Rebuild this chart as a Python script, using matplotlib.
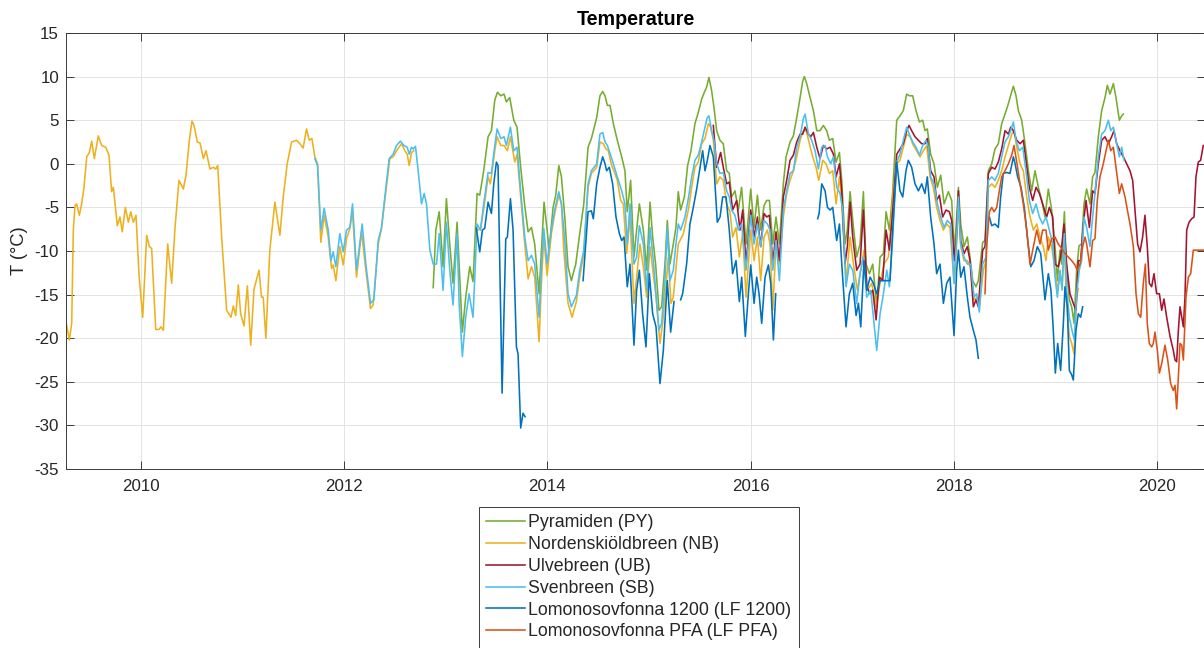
import numpy as np
import matplotlib
matplotlib.use("Agg")
import matplotlib.pyplot as plt

plt.rcParams['font.family'] = ['Liberation Sans', 'DejaVu Sans']

nan = np.nan

# ---- Daily-smoothed air temperature (deg C) at each station, time in decimal years ----
# Pyramiden (PY)
py_year = [2012.876, 2012.902, 2012.935, 2012.973, 2013.006, 2013.039, 2013.071, 2013.111, 2013.131,
           2013.163, 2013.196, 2013.236, 2013.268, 2013.308, 2013.334, 2013.373, 2013.416, 2013.449,
           2013.482, 2013.508, 2013.541, 2013.573, 2013.596, 2013.629, 2013.669, 2013.701, 2013.737,
           2013.777, 2013.810, 2013.843, 2013.875, 2013.918, 2013.941, 2013.967, 2013.997, 2014.016,
           2014.056, 2014.082, 2014.112, 2014.138, 2014.171, 2014.203, 2014.236, 2014.279, 2014.318,
           2014.358, 2014.400, 2014.433, 2014.485, 2014.517, 2014.544, 2014.567, 2014.590, 2014.616,
           2014.649, 2014.688, 2014.731, 2014.763, 2014.786, 2014.819, 2014.852, 2014.878, 2014.905,
           2014.944, 2014.977, 2015.010, 2015.036, 2015.065, 2015.098, 2015.124, 2015.157, 2015.180,
           2015.206, 2015.239, 2015.265, 2015.288, 2015.311, 2015.348, 2015.380, 2015.413, 2015.452,
           2015.485, 2015.518, 2015.544, 2015.567, 2015.590, 2015.616, 2015.639, 2015.666, 2015.698,
           2015.731, 2015.764, 2015.790, 2015.813, 2015.846, 2015.879, 2015.911, 2015.955, 2016.001,
           2016.034, 2016.067, 2016.099, 2016.132, 2016.158, 2016.185, 2016.218, 2016.250, 2016.283,
           2016.322, 2016.349, 2016.388, 2016.421, 2016.454, 2016.487, 2016.513, 2016.529, 2016.552,
           2016.585, 2016.618, 2016.651, 2016.683, 2016.716, 2016.749, 2016.775, 2016.808, 2016.841,
           2016.874, 2016.897, 2016.929, 2016.952, 2016.979, 2017.012, 2017.044, 2017.077, 2017.110,
           2017.136, 2017.169, 2017.202, 2017.241, 2017.274, 2017.307, 2017.333, 2017.366, 2017.399,
           2017.438, 2017.470, 2017.503, 2017.536, 2017.562, 2017.595, 2017.628, 2017.661, 2017.694,
           2017.716, 2017.739, 2017.772, 2017.805, 2017.838, 2017.871, 2017.904, 2017.946, 2017.979,
           2018.005, 2018.028, 2018.045, 2018.068, 2018.100, 2018.133, 2018.159, 2018.186, 2018.218,
           2018.241, 2018.284, 2018.307, 2018.340, 2018.373, 2018.405, 2018.438, 2018.471, 2018.504,
           2018.537, 2018.563, 2018.586, 2018.612, 2018.635, 2018.668, 2018.701, 2018.734, 2018.766,
           2018.799, 2018.832, 2018.865, 2018.897, 2018.930, 2018.963, 2018.996, 2019.019, 2019.045,
           2019.061, 2019.088, 2019.110, 2019.137, 2019.160, 2019.183, 2019.209, 2019.232, 2019.258,
           2019.281, 2019.307, 2019.340, 2019.366, 2019.389, 2019.422, 2019.455, 2019.488, 2019.511,
           2019.537, 2019.570, 2019.596, 2019.629, 2019.652, 2019.668]
py_temp = [-14.2, -7.6, -5.5, -11.8, -4.0, -9.2, -13.7, -6.7, -11.5,
           -19.3, -15.3, -11.8, -13.5, -3.4, -3.6, -0.8, 3.1, 3.8,
           7.3, 8.2, 7.8, 8.0, 7.1, 7.6, 5.0, 4.2, -0.4,
           -4.8, -7.8, -7.3, -9.2, -14.9, -9.9, -4.4, -7.6, -9.9,
           -5.0, -3.6, -0.2, -1.5, -6.1, -11.8, -13.4, -11.5, -8.0,
           -4.6, 1.9, 2.9, 5.3, 7.8, 8.3, 7.8, 6.7, 6.7,
           4.6, 2.7, 0.8, -0.8, -5.5, -1.9, -10.7, -7.6, -4.6,
           -7.6, -12.2, -4.4, -8.4, -11.5, -16.8, -16.4, -11.5, -6.5,
           -11.5, -9.2, -7.3, -3.2, -5.3, -3.8, -0.2, 1.5, 4.6,
           5.9, 7.4, 8.2, 8.8, 9.9, 8.4, 6.5, 3.8, 2.7,
           2.3, -0.8, -1.1, -3.8, -3.1, -5.3, -2.7, -9.2, -2.9,
           -7.3, -3.6, -7.6, -4.8, -4.2, -4.2, -9.2, -6.1, -9.2,
           -2.3, 0.8, 2.5, 3.2, 5.3, 7.6, 9.5, 10.0, 9.2,
           7.6, 6.1, 3.8, 3.8, 4.4, 3.8, 2.7, 2.9, 0.2,
           1.3, -1.9, -9.2, -7.6, -3.2, -7.3, -10.7, -9.2, -3.2,
           -11.5, -12.6, -11.5, -16.4, -10.7, -10.3, -5.5, -7.6, -3.1,
           5.0, 5.5, 6.1, 8.0, 7.8, 7.8, 6.1, 4.8, 5.0,
           3.8, 4.0, 1.1, 0.0, -2.7, -1.3, -4.6, -3.2, -4.2,
           -10.3, -6.1, -2.7, -6.9, -9.5, -8.4, -10.7, -13.4, -14.1,
           -13.4, -9.0, -8.8, -0.8, 0.0, 1.7, 2.3, 4.6, 5.7,
           6.9, 8.0, 8.9, 7.8, 6.1, 5.0, 2.3, -0.8, -3.1,
           -0.8, -2.7, -4.2, -6.1, -2.9, -5.3, -9.5, -13.4, -9.9,
           -11.5, -5.5, -12.2, -15.6, -16.4, -18.3, -12.2, -9.4, -9.2,
           -4.6, -2.9, -4.6, -1.5, -1.0, 3.1, 6.1, 7.6, 9.0,
           8.0, 9.2, 7.6, 5.0, 5.5, 5.7]

# Nordenskiöldbreen (NB)
nb_year = [2009.262, 2009.295, 2009.318, 2009.334, 2009.351, 2009.367, 2009.393, 2009.416, 2009.439,
           2009.466, 2009.492, 2009.515, 2009.541, 2009.580, 2009.613, 2009.653, 2009.685, 2009.711,
           2009.728, 2009.767, 2009.793, 2009.816, 2009.846, 2009.876, 2009.899, 2009.925, 2009.951,
           2009.981, 2010.017, 2010.056, 2010.082, 2010.105, 2010.145, 2010.177, 2010.197, 2010.220,
           2010.263, 2010.302, 2010.335, 2010.374, 2010.417, 2010.443, 2010.476, 2010.502, 2010.522,
           2010.555, 2010.581, 2010.614, 2010.640, 2010.679, 2010.712, 2010.735, 2010.755, 2010.794,
           2010.843, 2010.886, 2010.909, 2010.932, 2010.958, 2010.981, 2011.014, 2011.047, 2011.080,
           2011.112, 2011.162, 2011.186, 2011.203, 2011.229, 2011.268, 2011.318, 2011.367, 2011.400,
           2011.439, 2011.482, 2011.531, 2011.564, 2011.596, 2011.629, 2011.656, 2011.682, 2011.711,
           2011.738, 2011.770, 2011.803, 2011.843, 2011.875, 2011.892, 2011.918, 2011.957, 2011.990,
           2012.023, 2012.056, 2012.082, 2012.121, 2012.171, 2012.213, 2012.259, 2012.285, 2012.335,
           2012.368, 2012.400, 2012.449, 2012.482, 2012.515, 2012.564, 2012.597, 2012.620, 2012.640,
           2012.663, 2012.686, 2013.000,
           2013.308, 2013.341, 2013.373, 2013.416, 2013.439, 2013.482, 2013.505, 2013.541, 2013.573,
           2013.606, 2013.636, 2013.679, 2013.701, 2013.737, 2013.777, 2013.810, 2013.843, 2013.875,
           2013.918, 2013.941, 2013.964, 2013.997, 2014.039, 2014.072, 2014.112, 2014.138, 2014.161,
           2014.203, 2014.243, 2014.285, 2014.318, 2014.358, 2014.400, 2014.433, 2014.485, 2014.517,
           2014.550, 2014.577, 2014.599, 2014.632, 2014.655, 2014.688, 2014.721, 2014.747, 2014.780,
           2014.813, 2014.852, 2014.885, 2014.911, 2014.944, 2014.977, 2015.010, 2015.042, 2015.069,
           2015.108, 2015.134, 2015.167, 2015.190, 2015.216, 2015.239, 2015.288, 2015.338, 2015.387,
           2015.420, 2015.452, 2015.485, 2015.518, 2015.551, 2015.584, 2015.607, 2015.633, 2015.666,
           2015.698, 2015.731, 2015.764, 2015.797, 2015.823, 2015.856, 2015.889, 2015.922, 2015.955,
           2016.001, 2016.034, 2016.067, 2016.099, 2016.132, 2016.165, 2016.191, 2016.218, 2016.250,
           2016.283, 2016.322, 2016.355, 2016.388, 2016.421, 2016.454, 2016.487, 2016.519, 2016.546,
           2016.578, 2016.611, 2016.644, 2016.670, 2016.710, 2016.742, 2016.775, 2016.808, 2016.841,
           2016.874, 2016.897, 2016.939, 2016.979, 2017.012, 2017.051, 2017.084, 2017.116, 2017.149,
           2017.192, 2017.235, 2017.274, 2017.313, 2017.356, 2017.405, 2017.438, 2017.470, 2017.503,
           2017.536, 2017.569, 2017.602, 2017.634, 2017.667, 2017.700, 2017.733, 2017.766, 2017.798,
           2017.831, 2017.864, 2017.897, 2017.930, 2017.962, 2018.002, 2018.028, 2018.045, 2018.068,
           2018.100, 2018.133, 2018.166, 2018.199, 2018.232, 2018.251, 2018.291, 2018.317, 2018.340,
           2018.373, 2018.405, 2018.438, 2018.471, 2018.504, 2018.537, 2018.570, 2018.592, 2018.619,
           2018.652, 2018.684, 2018.717, 2018.750, 2018.783, 2018.816, 2018.848, 2018.881, 2018.907,
           2018.930, 2018.963, 2018.996, 2019.019, 2019.045, 2019.065, 2019.088, 2019.110, 2019.137,
           2019.160, 2019.183, 2019.209, 2019.225]
nb_temp = [-18.1, -20.2, -18.3, -7.6, -4.8, -4.6, -5.9, -4.6, -2.7,
           0.8, 1.3, 2.6, 0.6, 3.2, 2.1, 1.9, 1.0, -3.2,
           -2.7, -7.1, -6.1, -7.8, -5.0, -6.7, -5.5, -6.7, -5.9,
           -12.8, -17.6, -8.2, -9.5, -9.7, -19.0, -19.0, -18.7, -19.1,
           -9.2, -13.7, -7.3, -1.9, -2.9, -1.3, 2.7, 4.9, 4.4,
           2.5, 2.4, 0.6, 1.5, -0.6, -0.4, -0.6, -0.2, -8.4,
           -16.8, -17.6, -16.3, -17.4, -13.9, -17.2, -18.6, -14.0, -20.8,
           -14.4, -12.2, -15.3, -15.3, -20.0, -9.9, -4.4, -8.2, -3.8,
           0.0, 2.5, 2.7, 2.3, 1.8, 4.0, 2.7, 2.9, 0.8,
           0.0, -9.0, -5.9, -8.4, -12.0, -11.6, -13.4, -9.5, -11.6,
           -8.6, -7.4, -5.5, -13.0, -7.8, -12.2, -16.6, -16.2, -9.2,
           -7.3, -4.2, 0.6, 0.8, 1.5, 2.3, 1.5, 1.1, -0.2,
           1.3, 1.5, nan,
           -7.6, -7.5, -5.2, -1.5, -2.3, 1.5, 3.1, 2.1, 2.1,
           1.5, 3.1, 0.2, 1.1, -3.8, -9.2, -13.2, -11.8, -13.0,
           -20.4, -13.7, -8.4, -12.8, -8.0, -5.7, -3.6, -4.6, -9.9,
           -16.0, -17.6, -15.8, -13.0, -10.3, -2.7, -1.1, -0.4, 2.5,
           2.3, 1.7, 1.5, -0.2, -0.8, -1.9, -4.2, -4.6, -10.3,
           -6.1, -16.0, -12.2, -9.2, -11.8, -15.3, -9.5, -12.6, -15.3,
           -20.6, -18.3, -14.1, -10.7, -16.0, -15.3, -9.2, -8.0, -5.3,
           -2.7, -0.4, 0.2, 2.3, 2.9, 4.6, 4.2, 2.7, -2.3,
           -1.5, -1.9, -4.6, -5.5, -8.4, -7.3, -10.7, -8.0, -15.3,
           -7.6, -11.1, -8.4, -13.4, -8.4, -7.6, -9.2, -16.8, -9.2,
           -11.5, -6.1, -3.4, -1.9, -0.8, 0.8, 2.7, 3.8, 3.8,
           2.3, 0.8, -0.4, -1.9, 0.4, 0.0, -1.1, -0.8, -4.6,
           -1.5, -4.6, -13.7, -8.4, -11.5, -14.5, -12.2, -9.9, -14.5,
           -13.7, -16.4, -13.7, -11.5, -10.7, -3.1, 0.0, 0.4, 1.9,
           3.4, 3.1, 2.1, 1.5, 0.8, 1.5, 2.1, -1.5, -2.7,
           -5.0, -6.5, -7.6, -6.9, -7.3, -13.7, -9.2, -4.6, -9.5,
           -11.1, -11.1, -11.8, -15.6, -15.3, -16.4, -12.2, -11.1, -2.7,
           -2.3, -2.7, -1.9, -0.8, 0.8, 2.1, 3.4, 3.8, 1.9,
           0.0, -0.8, -3.8, -6.1, -7.6, -6.9, -8.4, -9.5, -11.1,
           -8.4, -9.5, -12.2, -14.5, -12.6, -14.1, -9.5, -16.0, -19.8,
           -20.6, -21.8, -15.3, -14.3]

# Ulvebreen (UB)
ub_year = [2015.633, 2015.666, 2015.705, 2015.731, 2015.764, 2015.790, 2015.823, 2015.863, 2015.895,
           2015.922, 2015.955, 2016.001, 2016.034, 2016.067, 2016.099, 2016.132, 2016.158, 2016.185,
           2016.218, 2016.250, 2016.283, 2016.322, 2016.355, 2016.388, 2016.421, 2016.454, 2016.487,
           2016.513, 2016.536, 2016.569, 2016.592, 2016.618, 2016.651, 2016.683, 2016.716, 2016.749,
           2016.782, 2016.815, 2016.841, 2016.874, 2016.897, 2016.929, 2016.952, 2016.979, 2017.005,
           2017.044, 2017.077, 2017.110, 2017.143, 2017.176, 2017.202, 2017.235, 2017.267, 2017.300,
           2017.333, 2017.366, 2017.399, 2017.438, 2017.470, 2017.503, 2017.536, 2017.559, 2017.585,
           2017.618, 2017.651, 2017.684, 2017.716, 2017.739, 2017.772, 2017.805, 2017.831, 2017.858,
           2017.890, 2017.923, 2017.956, 2017.979, 2018.005, 2018.028, 2018.045, 2018.068, 2018.100,
           2018.133, 2018.159, 2018.192, 2018.218, 2018.241, 2018.284, 2018.307, 2018.340, 2018.373,
           2018.405, 2018.438, 2018.471, 2018.504, 2018.537, 2018.560, 2018.586, 2018.619, 2018.652,
           2018.684, 2018.710, 2018.743, 2018.776, 2018.809, 2018.842, 2018.874, 2018.914, 2018.940,
           2018.973, 2018.996, 2019.028, 2019.051, 2019.084, 2019.110, 2019.143, 2019.176, 2019.202,
           2019.225, 2019.248, 2019.275, 2019.301, 2019.334, 2019.366, 2019.389, 2019.422, 2019.455,
           2019.488, 2019.521, 2019.553, 2019.576, 2019.603, 2019.635, 2019.668, 2019.701, 2019.734,
           2019.760, 2019.783, 2019.809, 2019.832, 2019.858, 2019.881, 2019.904, 2019.924, 2019.947,
           2019.970, 2019.996, 2020.023, 2020.046, 2020.068, 2020.095, 2020.128, 2020.160, 2020.177,
           2020.193, 2020.210, 2020.226, 2020.243, 2020.259, 2020.275, 2020.292, 2020.315, 2020.341,
           2020.364, 2020.383, 2020.406, 2020.429, 2020.455]
ub_temp = [4.4, -0.4, 1.3, -0.4, -2.3, -2.1, -5.3, -4.2, -7.6,
           -5.3, -11.5, -5.3, -8.4, -6.1, -9.5, -5.7, -6.1, -5.9,
           -11.5, -7.8, -11.1, -3.8, -1.9, 0.4, 1.0, 2.5, 3.4,
           3.4, 4.2, 3.4, 3.1, 3.6, 1.9, 0.6, 2.1, 1.7,
           1.9, 1.1, -1.5, 0.0, -3.1, -11.5, -9.5, -4.4, -8.4,
           -12.2, -11.5, -5.3, -14.1, -14.9, -14.5, -17.9, -13.0, -13.4,
           -7.6, -9.9, -5.3, 1.1, 1.7, 2.3, 3.8, 4.4, 3.8,
           3.1, 2.7, 2.3, 2.3, 2.9, -0.8, -1.5, -4.2, -3.6,
           -6.1, -5.3, -5.5, -6.5, -11.1, -8.0, -3.1, -8.8, -10.3,
           -9.5, -11.1, -16.4, -15.6, -16.4, -9.9, -9.5, -1.1, -0.4,
           -0.6, 0.2, 1.7, 3.8, 3.4, 4.2, 3.8, 2.7, 2.3,
           2.7, 0.4, -2.7, -4.2, -2.7, -3.4, -4.6, -6.1, -5.0,
           -6.1, -11.5, -11.8, -10.7, -6.9, -11.5, -14.9, -16.0, -16.8,
           -11.1, -11.1, -6.9, -4.2, -7.3, -3.1, -3.4, 0.0, 2.7,
           3.1, 2.3, 3.1, 3.8, 2.3, 1.5, 0.8, 0.0, -0.8,
           -1.9, -5.3, -9.2, -10.1, -8.4, -5.9, -9.5, -13.7, -14.1,
           -12.6, -14.9, -14.9, -16.8, -15.5, -17.6, -19.8, -21.4, -22.5,
           -22.7, -19.1, -16.4, -17.6, -18.7, -15.3, -7.6, -6.7, -6.3,
           -6.1, -1.5, 0.2, 0.4, 2.1]

# Svenbreen (SB)
sb_year = [2011.711, 2011.738, 2011.770, 2011.803, 2011.843, 2011.869, 2011.892, 2011.918, 2011.957,
           2011.990, 2012.023, 2012.056, 2012.082, 2012.121, 2012.177, 2012.213, 2012.259, 2012.292,
           2012.335, 2012.368, 2012.400, 2012.443, 2012.482, 2012.515, 2012.554, 2012.587, 2012.620,
           2012.640, 2012.663, 2012.679, 2012.702, 2012.728, 2012.761, 2012.787, 2012.810, 2012.843,
           2012.876, 2012.909, 2012.935, 2012.973, 2013.006, 2013.039, 2013.071, 2013.111, 2013.131,
           2013.163, 2013.196, 2013.229, 2013.268, 2013.308, 2013.341, 2013.373, 2013.416, 2013.449,
           2013.482, 2013.505, 2013.541, 2013.573, 2013.596, 2013.636, 2013.669, 2013.701, 2013.737,
           2013.777, 2013.810, 2013.843, 2013.875, 2013.918, 2013.941, 2013.964, 2013.997, 2014.039,
           2014.072, 2014.112, 2014.138, 2014.171, 2014.203, 2014.236, 2014.285, 2014.318, 2014.358,
           2014.400, 2014.433, 2014.485, 2014.517, 2014.544, 2014.567, 2014.590, 2014.622, 2014.649,
           2014.688, 2014.731, 2014.763, 2014.786, 2014.813, 2014.852, 2014.878, 2014.905, 2014.944,
           2014.977, 2015.010, 2015.042, 2015.069, 2015.098, 2015.124, 2015.157, 2015.180, 2015.206,
           2015.239, 2015.265, 2015.288, 2015.311, 2015.354, 2015.387, 2015.420, 2015.452, 2015.485,
           2015.518, 2015.551, 2015.574, 2015.590, 2015.616, 2015.639, 2015.666, 2015.698, 2015.731,
           2015.764, 2015.790, 2015.813, 2015.846, 2015.879, 2015.911, 2015.955, 2016.001, 2016.034,
           2016.067, 2016.099, 2016.132, 2016.165, 2016.191, 2016.218, 2016.250, 2016.283, 2016.322,
           2016.355, 2016.388, 2016.421, 2016.454, 2016.487, 2016.519, 2016.536, 2016.569, 2016.601,
           2016.634, 2016.667, 2016.700, 2016.733, 2016.756, 2016.788, 2016.815, 2016.847, 2016.880,
           2016.907, 2016.939, 2016.972, 2017.005, 2017.044, 2017.077, 2017.110, 2017.143, 2017.182,
           2017.215, 2017.241, 2017.274, 2017.307, 2017.340, 2017.366, 2017.399, 2017.438, 2017.470,
           2017.503, 2017.536, 2017.562, 2017.595, 2017.628, 2017.661, 2017.694, 2017.726, 2017.749,
           2017.772, 2017.805, 2017.838, 2017.871, 2017.904, 2017.936, 2017.969, 2018.002, 2018.028,
           2018.045, 2018.068, 2018.100, 2018.133, 2018.166, 2018.199, 2018.225, 2018.251, 2018.284,
           2018.317, 2018.340, 2018.373, 2018.405, 2018.438, 2018.471, 2018.504, 2018.537, 2018.560,
           2018.586, 2018.612, 2018.645, 2018.678, 2018.710, 2018.743, 2018.776, 2018.809, 2018.842,
           2018.874, 2018.907, 2018.940, 2018.973, 2018.996, 2019.019, 2019.045, 2019.065, 2019.088,
           2019.110, 2019.137, 2019.163, 2019.186, 2019.209, 2019.235, 2019.258, 2019.281, 2019.307,
           2019.340, 2019.366, 2019.389, 2019.422, 2019.455, 2019.488, 2019.521, 2019.544, 2019.570,
           2019.596, 2019.629, 2019.652, 2019.675]
sb_temp = [0.6, -0.2, -7.6, -5.1, -7.6, -11.1, -10.1, -11.8, -8.0,
           -10.1, -7.6, -7.3, -4.6, -12.2, -6.9, -11.5, -16.0, -15.6,
           -8.8, -7.3, -3.8, 0.6, 1.1, 2.1, 2.6, 2.1, 1.9,
           1.1, 1.9, 1.7, 2.0, -0.8, -4.6, -3.4, -4.6, -9.9,
           -11.5, -11.5, -8.0, -14.5, -6.7, -12.2, -16.2, -8.0, -16.0,
           -22.1, -17.6, -14.9, -17.6, -6.9, -7.6, -4.6, -1.0, -1.1,
           2.1, 4.0, 2.9, 3.1, 2.1, 4.2, 1.5, 1.9, -3.1,
           -8.4, -11.1, -10.5, -11.5, -17.6, -11.8, -7.4, -11.5, -7.6,
           -5.3, -3.2, -4.6, -8.8, -14.9, -16.4, -15.1, -12.2, -9.9,
           -2.3, -0.8, 0.0, 3.4, 3.6, 2.5, 2.1, 1.0, 0.0,
           -1.5, -3.1, -4.6, -9.2, -4.6, -11.5, -10.7, -7.1, -9.2,
           -14.5, -7.3, -11.1, -14.9, -19.1, -18.3, -13.4, -7.3, -13.4,
           -12.2, -9.2, -6.9, -7.6, -6.1, -4.0, -1.5, 0.4, 1.0,
           2.5, 4.2, 5.3, 5.5, 3.8, 2.7, 0.0, -1.1, -1.0,
           -3.1, -3.8, -5.3, -5.9, -7.6, -6.9, -12.2, -5.9, -9.2,
           -6.9, -9.5, -6.5, -6.9, -7.6, -12.2, -8.8, -13.4, -5.3,
           -3.1, -1.1, -0.8, 1.9, 3.1, 5.2, 5.7, 3.4, 2.7,
           1.5, -0.6, 1.9, 2.1, 0.8, 0.0, 0.8, -2.7, -3.4,
           -5.3, -14.1, -11.5, -12.2, -16.0, -12.6, -10.7, -15.3, -14.5,
           -18.3, -21.4, -17.2, -14.9, -12.2, -14.1, -8.4, 0.2, 1.1,
           2.7, 4.2, 3.4, 2.5, 1.9, 1.0, 2.1, 2.7, 1.9,
           -1.5, -2.3, -4.6, -6.1, -7.3, -6.5, -6.9, -13.7, -8.4,
           -3.8, -9.2, -10.7, -11.5, -11.5, -15.3, -14.9, -17.0, -11.5,
           -10.7, -1.9, -1.5, -1.9, -1.1, 0.8, 2.5, 3.1, 3.8,
           4.8, 2.7, 1.5, 1.9, -0.8, -4.2, -5.7, -4.6, -6.1,
           -6.9, -6.1, -7.6, -9.2, -13.0, -15.3, -12.2, -14.5, -8.0,
           -14.5, -17.6, -19.1, -20.2, -14.9, -12.2, -11.1, -6.1, -7.3,
           -9.5, -6.1, -3.4, 0.8, 3.4, 3.8, 5.0, 3.8, 4.2,
           2.7, 0.8, 1.9, 0.4]

# Lomonosovfonna 1200 (LF 1200)
lf1200_year = [2013.301, 2013.334, 2013.360, 2013.383, 2013.416, 2013.449, 2013.472, 2013.498, 2013.514,
               2013.554, 2013.590, 2013.606, 2013.636, 2013.662, 2013.695, 2013.711, 2013.737, 2013.760,
               2013.780, 2014.000,
               2014.351, 2014.400, 2014.433, 2014.452, 2014.485, 2014.517, 2014.544, 2014.567, 2014.583,
               2014.609, 2014.642, 2014.675, 2014.708, 2014.731, 2014.754, 2014.786, 2014.813, 2014.852,
               2014.878, 2014.905, 2014.937, 2014.970, 2015.003, 2015.036, 2015.069, 2015.108, 2015.141,
               2015.180, 2015.213, 2015.246, 2015.280,
               2015.311, 2015.331, 2015.370, 2015.403, 2015.436, 2015.469, 2015.502, 2015.528, 2015.551,
               2015.574, 2015.600, 2015.633, 2015.672, 2015.699, 2015.725, 2015.758, 2015.790, 2015.823,
               2015.856, 2015.889, 2015.912, 2015.948, 2015.978, 2016.001, 2016.034, 2016.060, 2016.083,
               2016.109, 2016.142, 2016.175, 2016.198, 2016.224, 2016.247, 2016.450,
               2016.660, 2016.674, 2016.700, 2016.733, 2016.756, 2016.782, 2016.808, 2016.847, 2016.874,
               2016.897, 2016.939, 2016.972, 2017.005, 2017.038, 2017.061, 2017.084, 2017.116, 2017.143,
               2017.176, 2017.208, 2017.241, 2017.274, 2017.372, 2017.405, 2017.438, 2017.470, 2017.497,
               2017.529, 2017.552, 2017.585, 2017.618, 2017.651, 2017.684, 2017.716, 2017.739, 2017.772,
               2017.805, 2017.831, 2017.864, 2017.897, 2017.930, 2017.962, 2018.002, 2018.028, 2018.045,
               2018.068, 2018.100, 2018.133, 2018.159, 2018.192, 2018.218, 2018.241, 2018.300,
               2018.350, 2018.373, 2018.405, 2018.438, 2018.461, 2018.487, 2018.520, 2018.553, 2018.586,
               2018.603, 2018.628, 2018.661, 2018.694, 2018.724, 2018.757, 2018.789, 2018.822, 2018.855,
               2018.897, 2018.930, 2018.956, 2018.979, 2018.999, 2019.022, 2019.051, 2019.078, 2019.094,
               2019.117, 2019.137, 2019.160, 2019.176, 2019.202, 2019.225, 2019.248, 2019.268]
lf1200_temp = [-7.4, -10.1, -7.6, -7.4, -4.4, -5.7, -2.3, 0.2, -0.2,
               -26.3, -8.6, -8.4, -4.0, -7.6, -21.0, -21.8, -30.3, -28.6,
               -29.0, nan,
               -13.4, -5.5, -5.4, -6.3, -2.3, -0.4, 0.8, 0.0, -0.8,
               -0.4, -2.3, -6.1, -8.0, -8.8, -8.4, -14.1, -11.5, -20.8,
               -14.5, -12.2, -17.2, -21.0, -12.6, -17.2, -18.7, -25.2, -21.4,
               -13.4, -19.3, -15.8, nan,
               -15.6, -14.9, -11.5, -6.9, -5.0, -2.9, -0.4, 1.5, -0.8,
               0.4, 2.1, 0.8, -6.7, -6.1, -3.8, -3.8, -7.6, -12.6,
               -11.1, -15.8, -13.0, -19.8, -14.9, -11.6, -16.0, -13.0, -14.9,
               -18.3, -13.0, -11.6, -13.7, -20.2, -14.9, nan,
               -6.3, -5.7, -2.3, -3.1, -5.0, -5.3, -5.0, -8.8, -6.9,
               -11.5, -18.7, -14.9, -13.7, -17.4, -16.0, -18.7, -11.1, -14.5,
               -13.0, -13.7, -14.9, -13.4, -13.4, -6.1, 0.2, -3.1, -3.8,
               -0.8, 0.4, -0.4, -2.3, -3.1, -2.3, -3.4, -1.5, -6.1,
               -9.2, -12.6, -11.5, -16.0, -13.7, -13.0, -19.7, -12.2, -9.9,
               -13.0, -11.8, -15.3, -17.6, -19.1, -20.2, -22.3, nan,
               -6.1, -7.1, -6.9, -7.3, -3.8, -1.1, -1.0, -1.1, 0.8,
               0.0, -1.5, -2.7, -5.0, -8.4, -11.8, -11.1, -9.5, -10.3,
               -15.6, -12.6, -14.5, -19.1, -24.0, -20.6, -23.7, -18.3, -14.1,
               -16.4, -23.7, -24.2, -24.8, -19.1, -17.2, -17.6, -16.4]

# Lomonosovfonna PFA (LF PFA)
lfpfa_year = [2018.307, 2018.323, 2018.350, 2018.373, 2018.396, 2018.422, 2018.448, 2018.471, 2018.504,
              2018.537, 2018.570, 2018.592, 2018.619, 2018.652, 2018.684, 2018.717, 2018.750, 2018.783,
              2018.816, 2018.848, 2018.874, 2018.907, 2018.930, 2018.963, 2018.996, 2019.028, 2019.061,
              2019.094, 2019.127, 2019.160, 2019.192, 2019.215, 2019.242, 2019.268, 2019.291, 2019.307,
              2019.340, 2019.366, 2019.389, 2019.412, 2019.438, 2019.471, 2019.498, 2019.521, 2019.544,
              2019.570, 2019.596, 2019.629, 2019.652, 2019.685, 2019.708, 2019.734, 2019.767, 2019.793,
              2019.816, 2019.839, 2019.865, 2019.885, 2019.904, 2019.924, 2019.947, 2019.963, 2019.980,
              2020.003, 2020.023, 2020.046, 2020.078, 2020.105, 2020.134, 2020.160, 2020.177, 2020.193,
              2020.210, 2020.226, 2020.243, 2020.259, 2020.285, 2020.308, 2020.331, 2020.357, 2020.455]
lfpfa_temp = [-14.9, -9.5, -5.5, -5.0, -5.5, -5.0, -3.1, -1.5, -0.8,
              0.0, 1.0, 2.1, 0.2, -2.3, -4.6, -7.6, -11.5, -9.5,
              -7.6, -9.2, -7.6, -7.6, -9.9, -8.6, -8.4, -9.2, -9.7,
              -10.3, -10.7, -11.1, -11.6, -12.2, -11.5, -9.5, -8.4, -9.2,
              -11.8, -8.8, -8.6, -4.2, -1.5, 0.0, 1.5, 2.7, 1.5,
              1.9, -0.4, -3.4, -2.3, -3.8, -5.3, -6.9, -9.5, -14.9,
              -17.2, -17.6, -13.7, -11.5, -18.3, -20.6, -21.0, -20.6, -19.3,
              -21.4, -24.0, -22.9, -20.8, -22.5, -25.2, -26.0, -25.4, -28.1,
              -24.4, -20.6, -20.8, -22.5, -15.3, -13.0, -12.6, -9.9, -9.9]

series_labels = ['Pyramiden (PY)', 'Nordenskiöldbreen (NB)', 'Ulvebreen (UB)',
                 'Svenbreen (SB)', 'Lomonosovfonna 1200 (LF 1200)', 'Lomonosovfonna PFA (LF PFA)']
series_colors = ['#77AC30', '#EDB120', '#A2142F', '#4DBEEE', '#0072BD', '#D95319']
series_data = [(py_year, py_temp), (nb_year, nb_temp), (ub_year, ub_temp),
               (sb_year, sb_temp), (lf1200_year, lf1200_temp), (lfpfa_year, lfpfa_temp)]

year_ticks = [2010, 2012, 2014, 2016, 2018, 2020]
temp_ticks = [-35, -30, -25, -20, -15, -10, -5, 0, 5, 10, 15]

W, H = 1204, 648
fig = plt.figure(figsize=(W / 100, H / 100), dpi=100)
ax = fig.add_axes([66 / W, 1 - 469 / H, (1205 - 66) / W, (469 - 33) / H])

for (x, y), lab, col in zip(series_data, series_labels, series_colors):
    ax.plot(x, y, color=col, lw=1.15, label=lab, solid_joinstyle='round')

ax.set_xlim(2009.262, 2020.472)
ax.set_ylim(-35, 15)
ax.set_xticks(year_ticks)
ax.set_xticklabels([str(v) for v in year_ticks])
ax.set_yticks(temp_ticks)
ax.set_yticklabels([str(v) for v in temp_ticks])

ax.grid(True, color='#e3e3e3', lw=0.7)
ax.set_axisbelow(True)
for sp in ax.spines.values():
    sp.set_color('#3a3a3a')
    sp.set_linewidth(0.7)
ax.tick_params(axis='both', direction='in', length=6, width=0.7, color='#3a3a3a',
               labelcolor='#262626', labelsize=12.2, top=True, right=True)
ax.tick_params(axis='x', pad=7)
ax.tick_params(axis='y', pad=5)

ax.set_title('Temperature', fontsize=14.2, fontweight='bold', color='black', pad=6)
ax.set_ylabel('T (°C)', fontsize=13.2, color='#262626', va='center')
ax.yaxis.set_label_coords(-46 / 1139, 0.502)

leg = ax.legend(loc='upper left', bbox_to_anchor=(479 / W, 1 - 507 / H),
                bbox_transform=fig.transFigure, borderaxespad=0, fontsize=12.8,
                frameon=True, fancybox=False, shadow=False, framealpha=1,
                edgecolor='#3a3a3a', handlelength=2.15, handletextpad=0.2,
                labelspacing=0.27, borderpad=0.42)
leg.get_frame().set_linewidth(0.7)
for t in leg.get_texts():
    t.set_color('#262626')

fig.savefig('out.png', dpi=100)
